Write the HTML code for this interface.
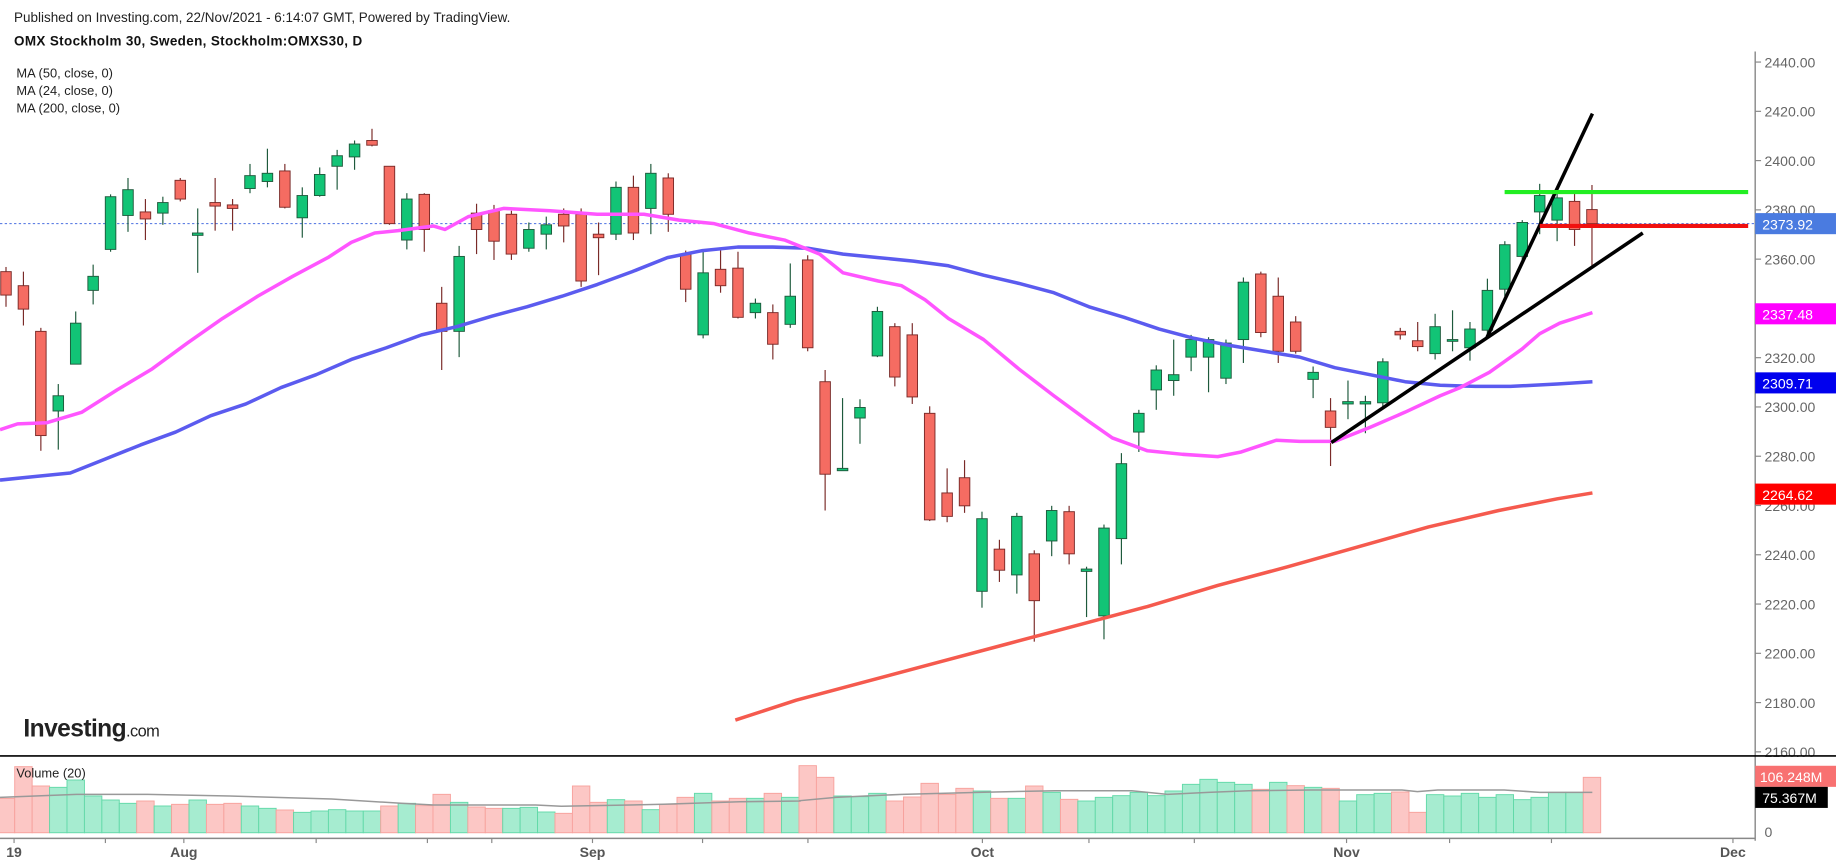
<!DOCTYPE html>
<html><head><meta charset="utf-8"><style>
html,body{margin:0;padding:0;background:#fff;}
svg{display:block;font-family:"Liberation Sans",Arial,sans-serif;}
</style></head><body>
<svg id="c" width="1836" height="866" viewBox="0 0 1568 739.6" xmlns="http://www.w3.org/2000/svg">
<rect width="1568" height="740" fill="#fff"/>
<text x="12" y="19" font-size="11.5" fill="#222">Published on Investing.com, 22/Nov/2021 - 6:14:07 GMT, Powered by TradingView.</text>
<text x="12" y="39" font-size="11.5" font-weight="bold" fill="#111" letter-spacing="0.3">OMX Stockholm 30, Sweden, Stockholm:OMXS30, D</text>
<text x="14" y="66" font-size="11" fill="#222">MA (50, close, 0)</text>
<text x="14" y="81" font-size="11" fill="#222">MA (24, close, 0)</text>
<text x="14" y="96" font-size="11" fill="#222">MA (200, close, 0)</text>
<g id="ticks"></g>
<line x1="1499" y1="44" x2="1499" y2="718" stroke="#888" stroke-width="1.2"/>
<line x1="0" y1="716" x2="1499" y2="716" stroke="#888" stroke-width="1.2"/>
<line x1="0" y1="645.6" x2="1568" y2="645.6" stroke="#000" stroke-width="1.4"/>
<line x1="0" y1="191" x2="1499" y2="191" stroke="#4a6fe0" stroke-width="0.8" stroke-dasharray="2,2"/>
<g id="vol"></g>
<polyline id="vma" fill="none" stroke="#999" stroke-width="1.3" points=""/>
<g id="cand"></g>
<polyline fill="none" stroke="#5b5bef" stroke-width="3" stroke-linejoin="round" points="0,410 30,407 60,404 90,392 120,380 150,369 180,355 210,345 240,331 270,320 300,307 330,297 360,286 390,279 420,270 450,262 480,253 510,243 540,232 570,220 600,214 630,211 660,211 690,212 720,217 750,220 780,223 810,227 840,235 870,242 900,250 930,262 960,271 990,281 1020,289 1050,295 1080,300 1110,305 1140,314 1170,320 1200,326 1230,329 1260,330 1290,330 1330,328 1360,326"/>
<polyline fill="none" stroke="#ff55ff" stroke-width="3" stroke-linejoin="round" points="0,367 15,362 40,361 70,352 100,333 130,315 160,293 190,272 220,253 250,236 280,220 300,207 320,199 340,197 370,193 380,196 400,185 430,178 470,180 510,183 550,183 580,188 610,191 640,199 670,205 700,217 720,233 750,240 770,244 790,256 810,272 840,290 870,315 900,338 930,360 950,374 980,385 1010,388 1040,390 1060,386 1090,376 1110,377 1140,377 1170,365 1200,352 1230,338 1247,331 1272,318 1300,298 1315,285 1332,276 1360,267"/>
<polyline fill="none" stroke="#f55a4e" stroke-width="3" stroke-linejoin="round" points="628,615 680,598 740,582 800,566 860,550 920,534 980,518 1040,500 1100,484 1160,467 1220,450 1280,436 1330,426 1360,421"/>
<line x1="1137" y1="378" x2="1403" y2="199" stroke="#000" stroke-width="3"/>
<line x1="1270" y1="288" x2="1360" y2="97" stroke="#000" stroke-width="3"/>
<line x1="1285" y1="164" x2="1493" y2="164" stroke="#22ee22" stroke-width="3.5"/>
<line x1="1315" y1="193" x2="1493" y2="193" stroke="#f01010" stroke-width="3.5"/>
<rect x="1499" y="182" width="69" height="18" fill="#4a7be0"/>
<text x="1505" y="196" font-size="12" fill="#fff">2373.92</text>
<rect x="1499" y="259" width="69" height="18" fill="#ff00ff"/>
<text x="1505" y="273" font-size="12" fill="#fff">2337.48</text>
<rect x="1499" y="318" width="69" height="18" fill="#0000ee"/>
<text x="1505" y="332" font-size="12" fill="#fff">2309.71</text>
<rect x="1499" y="413" width="69" height="18" fill="#ff0000"/>
<text x="1505" y="427" font-size="12" fill="#fff">2264.62</text>
<rect x="1499" y="654" width="69" height="18" fill="#f87171"/>
<text x="1503" y="668" font-size="12" fill="#fff">106.248M</text>
<rect x="1499" y="672" width="62" height="18" fill="#000"/>
<text x="1505" y="686" font-size="12" fill="#fff">75.367M</text>
<text x="1507" y="715" font-size="12" fill="#666">0</text>
<text x="14" y="664" font-size="11" fill="#222">Volume (20)</text>
<text x="20" y="629" font-size="21" font-weight="bold" fill="#222" letter-spacing="-0.5">Investing<tspan font-size="14" font-weight="normal">.com</tspan></text>
<g font-size="12" font-weight="bold" fill="#555" text-anchor="middle">
<text x="12" y="732">19</text><text x="157" y="732">Aug</text><text x="506" y="732">Sep</text><text x="839" y="732">Oct</text><text x="1150" y="732">Nov</text><text x="1480" y="732">Dec</text>
</g>
</svg>
<script>
var NS="http://www.w3.org/2000/svg";
function el(p,t,a){var e=document.createElementNS(NS,t);for(var k in a)e.setAttribute(k,a[k]);p.appendChild(e);return e;}
var tk=document.getElementById('ticks');
for(var v=2440;v>=2160;v-=20){var y=53+(2440-v)*2.104;el(tk,'line',{x1:1499,y1:y,x2:1504,y2:y,stroke:'#888'});var t=el(tk,'text',{x:1507,y:y+4.5,'font-size':12,fill:'#666'});t.textContent=v.toFixed(2);}
[12,90,157,270,365,420,506,600,690,839,930,1020,1150,1238,1325,1480].forEach(function(x){el(tk,'line',{x1:x,y1:716,x2:x,y2:720,stroke:'#888'});});
var D=[
['r',232,252,228,262],
['r',244,264,232,278],['r',283,372,280,385],['g',338,351,328,384],['g',276,311,266,311],['g',236,248,226,260],
['g',168,213,166,215],['g',162,184,152,198],['r',181,187,170,205],['g',173,182,168,192],['r',154,170,152,172],
['g',199,201,178,233],['r',173,176,152,197],['r',175,178,170,197],['g',150,161,140,165],['g',148,155,127,160],
['r',146,177,140,178],['g',167,186,160,203],['g',149,167,143,168],['g',133,142,128,162],['g',123,134,120,145],
['r',120,124,110,125],['r',142,191,142,192],['g',170,205,165,213],['r',166,196,165,215],['r',259,283,245,316],
['g',219,283,210,305],['r',182,196,174,217],['r',180,206,175,222],['r',183,217,180,222],['g',196,212,190,215],
['g',192,200,185,213],['r',183,193,178,207],['r',183,240,178,245],['r',200,203,190,235],['g',160,200,155,205],
['r',160,199,150,205],['g',148,178,140,200],['r',152,183,148,198],['r',217,247,214,258],['g',233,286,213,289],
['r',230,244,213,250],['r',229,271,215,272],['g',259,267,255,272],['r',267,294,260,307],['g',253,277,225,280],
['r',222,297,218,300],['r',326,405,316,436],['g',400,402,340,402],['g',348,357,341,379],['g',266,304,262,305],
['r',279,322,276,330],['r',286,339,276,345],['r',353,444,347,445],['r',421,441,400,446],['r',408,432,393,438],
['g',443,505,437,519],['r',469,487,461,497],['g',441,491,438,507],['r',473,513,470,548],['g',436,462,432,475],
['r',437,473,432,482],['g',486,488,484,527],['g',451,526,448,546],['g',396,460,387,482],['g',353,369,350,386],
['g',316,333,312,350],['g',320,325,290,338],['g',290,305,286,317],['g',290,305,288,335],['g',293,323,290,328],
['g',241,290,237,310],['r',234,284,232,288],['r',253,300,237,310],['r',275,300,270,302],['g',318,324,313,340],
['r',351,365,340,398],['g',343,345,325,358],['g',343,345,338,370],['g',309,344,306,348],['r',283,286,280,290],
['r',291,296,275,300],['g',279,302,268,307],['g',290,291,265,300],['g',281,297,275,308],['g',248,282,238,287],
['g',209,247,206,253],['g',190,219,188,222],['g',167,181,157,200],['g',169,188,165,206],['r',172,196,165,210],
['r',179,191,158,228]];
var VC="rrrgggggrgrgrrggrgggggrgrrgrrgggrrrgrgrrgrrgrg"+"rrgggrrrrrgrgrgrggggggggggrgrgrgggrrgggggggggrr";
var VZ=[115,20,78,82,60,108,120,130,123,138,133,120,133,130,138,145,150,157,153,149,153,153,138,130,137,103,127,141,145,145,142,156,160,78,127,119,123,149,133,112,100,123,115,115,100,112,
17,52,108,110,100,123,111,70,103,85,93,115,115,78,97,118,123,112,107,97,107,93,73,58,67,73,88,67,77,82,85,123,104,100,96,157,104,108,100,112,104,119,112,97,97,52];
function zy(z){return (760+z/3)/1.1709;}
var cg=document.getElementById('cand'),vg=document.getElementById('vol');
var step=(1359.6-20)/90;
D.forEach(function(d,i){
 var x=20+(i-1)*step, g=d[0]=='g';
 var fill=g?'#12c476':'#f56c62', st=g?'#1e5a3c':'#7a2a28';
 var vg2=VC[i]=='g', top=zy(VZ[i]);
 el(vg,'rect',{x:x-step/2,y:top,width:step,height:711.2-top,fill:vg2?'#a6ecd0':'#fcc7c5',stroke:vg2?'#62d9a8':'#f7a29d','stroke-width':0.8});
 el(cg,'line',{x1:x,y1:d[3],x2:x,y2:d[4],stroke:st,'stroke-width':1});
 var h=Math.max(1.5,d[2]-d[1]);
 el(cg,'rect',{x:x-4.5,y:d[1],width:9,height:h,fill:fill,stroke:st,'stroke-width':0.8});
});
var M1=[[0,112],[150,103],[290,103],[450,108],[650,117],[790,130],[850,135],[1050,135],[1100,139],[1300,133],[1450,125],[1568,123]];
var M2=[[0,122],[70,112],[200,103],[350,97],[500,92],[650,92],[720,103],[800,97],[880,92],[1000,90],[1180,90],[1210,95],[1250,90],[1380,90],[1450,97],[1553,97]];
var pts=[];
M1.forEach(function(p){pts.push((p[0]/1.96/1.1709).toFixed(1)+","+zy(p[1]).toFixed(1));});
M2.forEach(function(p){pts.push(((800+p[0]/1.96)/1.1709).toFixed(1)+","+zy(p[1]).toFixed(1));});
document.getElementById('vma').setAttribute('points',pts.join(' '));
</script>
</body></html>
